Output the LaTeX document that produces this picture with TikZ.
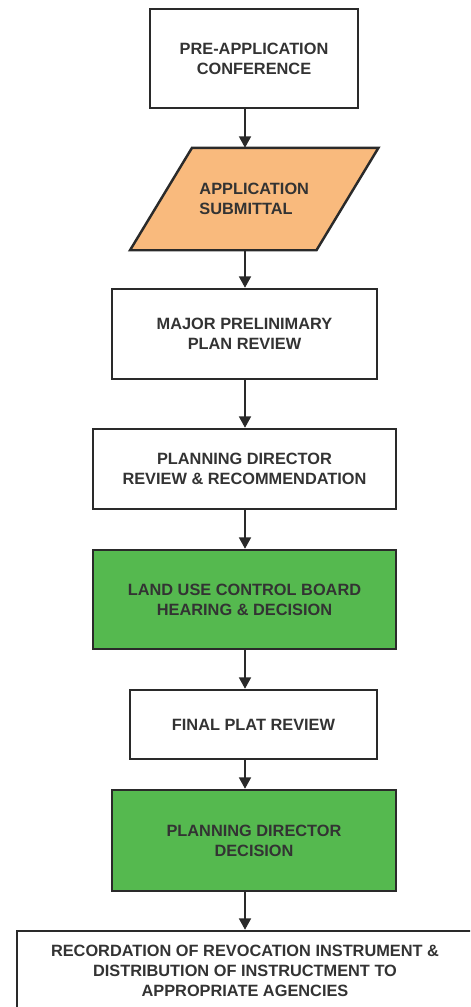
\documentclass[tikz,border=0pt]{standalone}
\usepackage{fontspec}
\setmainfont{Liberation Sans}
\usetikzlibrary{arrows.meta,backgrounds}
\definecolor{ink}{HTML}{333333}
\definecolor{edge}{HTML}{2A2A2A}
\definecolor{cgreen}{HTML}{55B94F}
\definecolor{corange}{HTML}{F9BA7D}
\tikzset{
  base/.style={align=center, inner sep=0pt, font=\fontsize{9.3}{11.4}\selectfont\bfseries, text=ink, draw=edge, line width=1.4pt},
  box/.style={base, fill=white},
  tint/.style={base, fill=#1},
  arr/.style={-{Triangle[length=6.5pt,width=6.8pt]}, line width=1.1pt, draw=edge},
}
\begin{document}
\begin{tikzpicture}
    \clip (0,0) rectangle (9.40,-20.14);
    \node[box, minimum width=4.16cm, minimum height=1.98cm] (pre) at (5.08,-1.17) {PRE-APPLICATION\\CONFERENCE};
    \node[base, draw=none, align=left, minimum width=3.68cm, minimum height=2.0cm] (sub) at (5.085,-3.98) {APPLICATION\\SUBMITTAL};
    \node[box, minimum width=5.30cm, minimum height=1.80cm] (prelim) at (4.89,-6.68) {MAJOR PRELINIMARY\\PLAN REVIEW};
    \node[box, minimum width=6.06cm, minimum height=1.60cm] (recom) at (4.89,-9.38) {PLANNING DIRECTOR\\REVIEW \& RECOMMENDATION};
    \node[tint=cgreen, minimum width=6.06cm, minimum height=1.98cm] (board) at (4.89,-11.99) {LAND USE CONTROL BOARD\\HEARING \& DECISION};
    \node[box, minimum width=4.94cm, minimum height=1.38cm] (plat) at (5.07,-14.49) {FINAL PLAT REVIEW};
    \node[tint=cgreen, minimum width=5.68cm, minimum height=2.02cm] (decide) at (5.08,-16.81) {PLANNING DIRECTOR\\DECISION};
    \node[box, minimum width=9.12cm, minimum height=1.60cm] (record) at (4.90,-19.42) {RECORDATION OF REVOCATION INSTRUMENT \&\\DISTRIBUTION OF INSTRUCTMENT TO\\APPROPRIATE AGENCIES};
    % submittal parallelogram
    \begin{scope}[on background layer]
      \draw[fill=corange, draw=edge, line width=1.4pt, line join=miter]
        ([xshift=-0.62cm]sub.south west) -- ([xshift=-0.62cm]sub.south east)
        -- ([xshift=0.62cm]sub.north east) -- ([xshift=0.62cm]sub.north west) -- cycle;
    \end{scope}
    \coordinate (spine) at (4.90,0);
    \draw[arr] (pre.south -| spine) -- (sub.north -| spine);
    \draw[arr] (sub.south -| spine) -- (prelim.north -| spine);
    \draw[arr] (prelim.south -| spine) -- (recom.north -| spine);
    \draw[arr] (recom.south -| spine) -- (board.north -| spine);
    \draw[arr] (board.south -| spine) -- (plat.north -| spine);
    \draw[arr] (plat.south -| spine) -- (decide.north -| spine);
    \draw[arr] (decide.south -| spine) -- (record.north -| spine);
  \end{tikzpicture}
\end{document}
